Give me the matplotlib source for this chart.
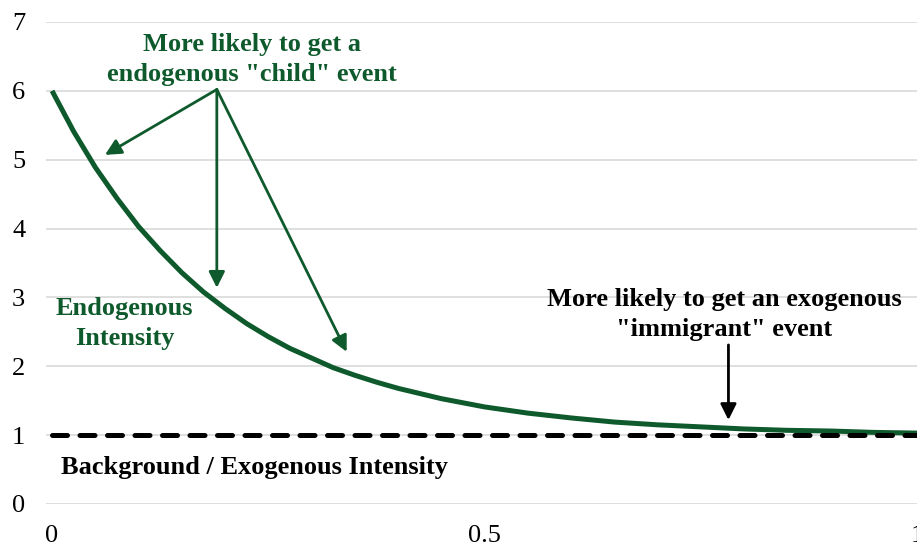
import matplotlib
matplotlib.use("Agg")
import matplotlib.pyplot as plt

# curve
x_vals = [0.0, 0.025, 0.05, 0.075, 0.1, 0.125, 0.15, 0.175, 0.2, 0.225, 0.25, 0.275,
          0.3, 0.325, 0.35, 0.375, 0.4, 0.45, 0.5, 0.55, 0.6, 0.65, 0.7, 0.75,
          0.8, 0.85, 0.9, 0.95, 1.0]
endogenous = [6.0, 5.41, 4.89, 4.44, 4.03, 3.68, 3.36, 3.08, 2.84, 2.62, 2.43, 2.26,
              2.12, 1.98, 1.87, 1.77, 1.68, 1.53, 1.41, 1.32, 1.25, 1.19, 1.15, 1.12,
              1.09, 1.07, 1.06, 1.04, 1.03]
background_x = [0.0, 1.0]
background = [1.0, 1.0]

y_ticks = [0, 1, 2, 3, 4, 5, 6, 7]
x_ticks = [0, 0.5, 1]
x_labels = ["0", "0.5", "1"]

GREEN = "#0E5A2C"
FONT = "Liberation Serif"

fig = plt.figure(figsize=(9.17, 5.46), dpi=100)
ax = fig.add_axes([46 / 917, 42 / 546, 871 / 917, 482 / 546])

ax.plot(x_vals, endogenous, color=GREEN, lw=3.6, solid_capstyle="butt",
        solid_joinstyle="round", zorder=3)
ax.plot(background_x, background, color="black", lw=3.6, dashes=(3.0, 2.5),
        dash_capstyle="round", zorder=4)

ax.set_xlim(-0.007, 1.0)
ax.set_ylim(0, 7)
ax.set_yticks(y_ticks)
ax.set_xticks(x_ticks)
ax.set_xticklabels(x_labels)
ax.yaxis.grid(True, color="#D9D9D9", lw=1.2)
ax.set_axisbelow(True)
for s in ax.spines.values():
    s.set_visible(False)
ax.tick_params(length=0, pad=15, labelsize=19)
for lab in ax.get_xticklabels() + ax.get_yticklabels():
    lab.set_fontfamily(FONT)

txt = dict(fontfamily=FONT, fontweight="bold", fontsize=19, ha="center",
           va="center", linespacing=1.38)

ax.text(0.231, 6.45, 'More likely to get a\nendogenous "child" event', color=GREEN, **txt)
ax.text(0.084, 2.62, "Endogenous\nIntensity", color=GREEN, **txt)
ax.text(0.777, 2.75, 'More likely to get an exogenous\n"immigrant" event', color="black", **txt)
ax.text(0.234, 0.53, "Background / Exogenous Intensity", color="black", **txt)

origin = (0.1905, 6.02)
for tip in [(0.0612, 5.07), (0.1905, 3.14), (0.3406, 2.21)]:
    ax.annotate("", xy=tip, xytext=origin,
                arrowprops=dict(arrowstyle="-|>", color=GREEN, lw=2,
                                mutation_scale=24, shrinkA=0, shrinkB=0))
ax.annotate("", xy=(0.782, 1.22), xytext=(0.782, 2.31),
            arrowprops=dict(arrowstyle="-|>", color="black", lw=2,
                            mutation_scale=24, shrinkA=0, shrinkB=0))

fig.savefig("out.png", dpi=100)
